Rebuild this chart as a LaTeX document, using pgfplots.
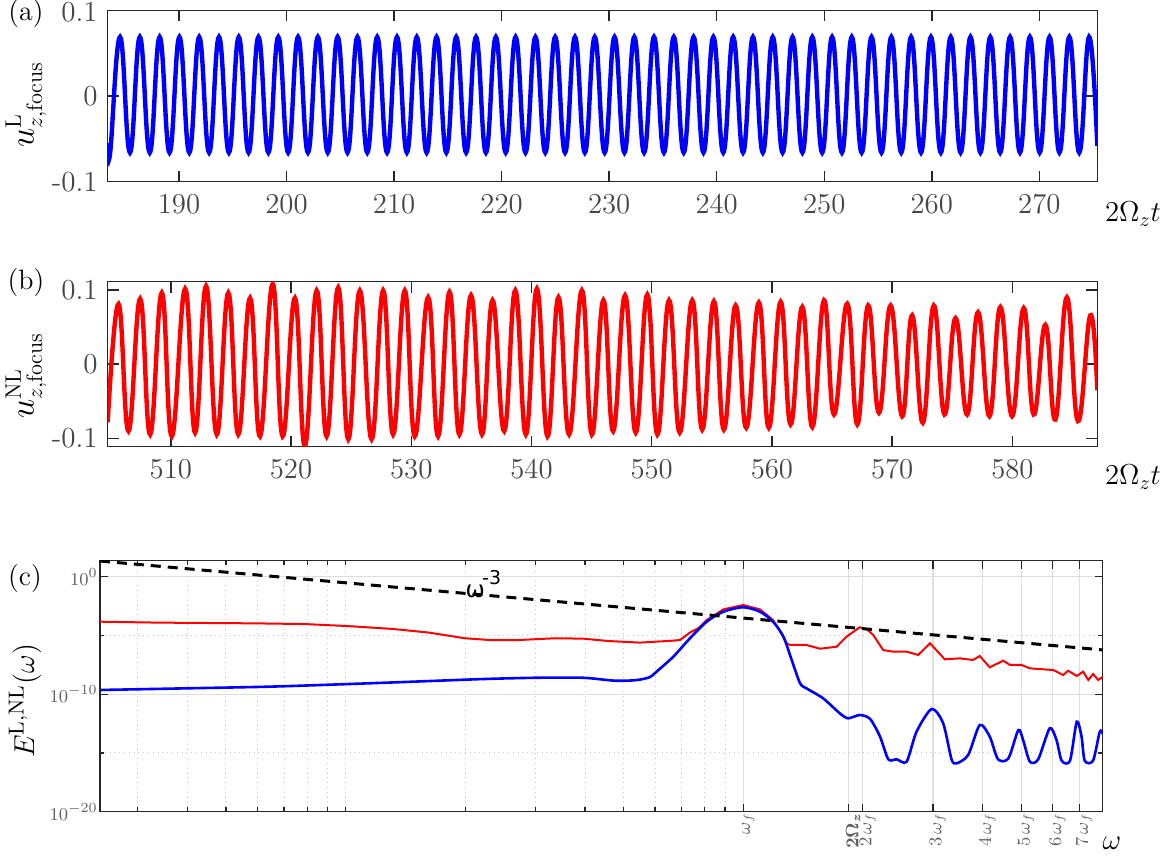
\documentclass[border=0pt]{standalone}
\usepackage{fontspec}
\usepackage{bm}
\usepackage{pgfplots}
\pgfplotsset{compat=1.18}
\usepackage{pgfplotstable}
\newfontfamily\dejavu{DejaVu Sans}
\definecolor{axcol}{RGB}{38,38,38}
\definecolor{labcol}{RGB}{70,70,70}
\definecolor{labcolc}{RGB}{95,95,95}
\definecolor{gridmaj}{RGB}{222,222,222}
\definecolor{gridmin}{RGB}{200,200,200}

\pgfplotstableread{
lw lE
-1.618 -3.83
-1.468 -3.91
-1.230 -3.97
-1.104 -4.03
-0.996 -4.20
-0.880 -4.45
-0.790 -4.76
-0.700 -5.24
-0.637 -5.39
-0.565 -5.39
-0.475 -5.24
-0.403 -5.27
-0.341 -5.47
-0.260 -5.61
-0.180 -5.45
-0.159 -5.39
-0.134 -4.75
-0.113 -4.39
-0.092 -3.69
-0.050 -2.78
0.000 -2.41
0.042 -2.78
0.075 -3.69
0.101 -5.10
0.109 -5.67
0.117 -5.81
0.159 -5.81
0.193 -6.13
0.235 -5.96
0.260 -5.10
0.293 -4.31
0.310 -4.45
0.327 -4.96
0.352 -6.24
0.377 -6.38
0.411 -6.38
0.440 -6.66
0.470 -5.67
0.507 -7.03
0.545 -6.95
0.578 -7.09
0.595 -6.75
0.620 -7.71
0.654 -7.15
0.671 -7.51
0.700 -7.51
0.721 -7.80
0.780 -7.94
0.805 -8.37
0.817 -8.00
0.839 -8.45
0.855 -8.08
0.868 -8.79
0.880 -8.28
0.893 -8.79
0.905 -8.51
}\redtab

\pgfplotstableread{
lw lE
-1.616 -9.64
-1.401 -9.50
-1.194 -9.36
-1.014 -9.16
-0.835 -8.94
-0.655 -8.71
-0.520 -8.60
-0.403 -8.60
-0.323 -8.85
-0.269 -8.80
-0.235 -8.55
-0.218 -8.08
-0.176 -6.81
-0.134 -5.24
-0.092 -3.83
-0.050 -2.98
0.000 -2.60
0.042 -2.98
0.075 -3.83
0.101 -5.10
0.122 -7.09
0.143 -9.07
0.159 -9.50
0.201 -10.35
0.243 -11.63
0.264 -12.05
0.293 -11.77
0.319 -12.10
0.344 -13.60
0.365 -15.54
0.386 -15.54
0.411 -15.74
0.436 -13.19
0.474 -11.26
0.503 -12.48
0.524 -15.54
0.537 -15.88
0.566 -15.17
0.595 -12.62
0.620 -13.60
0.641 -15.54
0.667 -15.46
0.692 -13.05
0.704 -13.90
0.721 -15.74
0.742 -15.54
0.771 -12.90
0.788 -13.90
0.801 -15.66
0.822 -15.66
0.839 -12.34
0.851 -13.60
0.859 -15.66
0.880 -15.66
0.897 -13.19
0.905 -13.41
}\bluetab

\pgfplotsset{
  tsab/.style={
    scale only axis, anchor=north west,
    tick align=inside, major tick length=5.5pt,
    axis line style={axcol, line width=0.75pt},
    every tick/.style={axcol, line width=0.75pt},
    tick label style={font=\fontsize{14.5}{17}\selectfont, text=labcol},
    xticklabel style={yshift=-3pt},
    yticklabel style={xshift=-1.5pt, inner ysep=0pt},
    ytick={-0.1,0,0.1}, yticklabels={-0.1,0,0.1},
  }
}

\begin{document}
\begin{tikzpicture}
\useasboundingbox (0,0) rectangle (586.5pt,-429pt);

% ---------- panel (a)
\begin{axis}[tsab,
  at={(53.85pt,-5.2pt)}, width=494.8pt, height=85.65pt,
  xmin=183.37, xmax=275.39, ymin=-0.1, ymax=0.1,
  yticklabels={-0.1,0,\raisebox{-5.67pt}[5pt][5pt]{0.1}},
  xtick={190,200,...,270}]
\addplot[blue, line width=2.2pt, smooth, tension=0.75] coordinates {
(183.37,-0.055) (183.60,-0.066) (184.52,0.069)
(185.44,-0.066) (186.36,0.069) (187.28,-0.066) (188.20,0.069)
(189.12,-0.066) (190.04,0.069) (190.96,-0.066) (191.88,0.069)
(192.80,-0.066) (193.72,0.069) (194.64,-0.066) (195.56,0.069)
(196.47,-0.066) (197.39,0.069) (198.31,-0.066) (199.23,0.069)
(200.15,-0.066) (201.07,0.069) (201.99,-0.066) (202.91,0.069)
(203.83,-0.066) (204.75,0.069) (205.67,-0.066) (206.59,0.069)
(207.51,-0.066) (208.43,0.069) (209.35,-0.066) (210.27,0.069)
(211.19,-0.066) (212.11,0.069) (213.03,-0.066) (213.95,0.069)
(214.86,-0.066) (215.78,0.069) (216.70,-0.066) (217.62,0.069)
(218.54,-0.066) (219.46,0.069) (220.38,-0.066) (221.30,0.069)
(222.22,-0.066) (223.14,0.069) (224.06,-0.066) (224.98,0.069)
(225.90,-0.066) (226.82,0.069) (227.74,-0.066) (228.66,0.069)
(229.58,-0.066) (230.50,0.069) (231.42,-0.066) (232.34,0.069)
(233.25,-0.066) (234.17,0.069) (235.09,-0.066) (236.01,0.069)
(236.93,-0.066) (237.85,0.069) (238.77,-0.066) (239.69,0.069)
(240.61,-0.066) (241.53,0.069) (242.45,-0.066) (243.37,0.069)
(244.29,-0.066) (245.21,0.069) (246.13,-0.066) (247.05,0.069)
(247.97,-0.066) (248.89,0.069) (249.81,-0.066) (250.73,0.069)
(251.64,-0.066) (252.56,0.069) (253.48,-0.066) (254.40,0.069)
(255.32,-0.066) (256.24,0.069) (257.16,-0.066) (258.08,0.069)
(259.00,-0.066) (259.92,0.069) (260.84,-0.066) (261.76,0.069)
(262.68,-0.066) (263.60,0.069) (264.52,-0.066) (265.44,0.069)
(266.36,-0.066) (267.28,0.069) (268.20,-0.066) (269.12,0.069)
(270.03,-0.066) (270.95,0.069) (271.87,-0.066) (272.79,0.069)
(273.71,-0.066) (274.63,0.069) (275.39,-0.058)
};
\end{axis}

% ---------- panel (b)
\begin{axis}[tsab,
  at={(53.85pt,-140.85pt)}, width=494.8pt, height=82.5pt,
  xmin=504.75, xmax=587.06, ymin=-0.111, ymax=0.111,
  xtick={510,520,...,580}]
\addplot[red, line width=2.2pt, smooth, tension=0.75] coordinates {
(504.75,-0.078)
(505.65,0.081) (506.48,-0.090) (507.45,0.088) (508.28,-0.0945)
(509.25,0.096) (510.08,-0.097) (511.19,0.1015) (512.02,-0.092)
(512.93,0.105) (513.82,-0.0945) (514.78,0.096) (515.61,-0.0945)
(516.59,0.089) (517.42,-0.097) (518.47,0.108) (519.30,-0.097)
(520.32,0.089) (521.15,-0.110) (522.13,0.099) (522.96,-0.097)
(523.92,0.103) (524.76,-0.101) (525.72,0.099) (526.70,-0.101)
(527.66,0.099) (528.49,-0.0945) (529.46,0.099) (530.29,-0.097)
(531.40,0.090) (532.23,-0.097) (533.18,0.097) (534.00,-0.0945)
(534.97,0.0926) (535.88,-0.0945) (536.76,0.086) (537.73,-0.090)
(538.65,0.0993) (539.53,-0.0945) (540.45,0.1015) (541.33,-0.097)
(542.24,0.090) (543.13,-0.0945) (544.19,0.0993) (545.02,-0.0945)
(545.98,0.086) (546.79,-0.090) (547.78,0.0926) (548.67,-0.092)
(549.63,0.0935) (550.47,-0.0945) (551.44,0.086) (552.33,-0.092)
(553.37,0.086) (554.20,-0.088) (555.17,0.0846) (556.00,-0.088)
(556.98,0.079) (557.86,-0.0855) (558.91,0.083) (559.74,-0.0855)
(560.72,0.084) (561.55,-0.081) (562.52,0.077) (563.36,-0.0846)
(564.33,0.086) (565.16,-0.0677) (566.26,0.0813) (567.10,-0.081)
(568.00,0.079) (568.90,-0.0654) (569.87,0.079) (570.83,-0.070)
(571.66,0.0658) (572.55,-0.0788) (573.46,0.079) (574.35,-0.0677)
(575.27,0.062) (576.23,-0.0677) (577.14,0.070) (578.09,-0.070)
(579.00,0.077) (579.97,-0.070) (580.94,0.0756) (581.77,-0.0677)
(582.74,0.053) (583.57,-0.0744) (584.53,0.090) (585.45,-0.0765)
(586.48,0.0658) (587.06,-0.035)
};
\end{axis}

% ---------- panel (c)
\begin{loglogaxis}[
  at={(50pt,-280.35pt)}, anchor=north west, scale only axis,
  width=501.35pt, height=125.5pt,
  xmin=0.0241, xmax=8.02, ymin=1e-20, ymax=22.9,
  xtick={1,1.836,2,3,4,5,6,7},
  xticklabels={$\omega_f$,$\bm{2\Omega_z}$,$2\,\omega_f$,$3\,\omega_f$,$4\,\omega_f$,$5\,\omega_f$,$6\,\omega_f$,$7\,\omega_f$},
  minor xtick={0.03,0.04,0.05,0.06,0.07,0.08,0.09,0.1,0.2,0.3,0.4,0.5,0.6,0.7,0.8,0.9},
  ytick={1e0,1e-10,1e-20}, minor ytick={1e-5,1e-15},
  tick align=inside, major tick length=4pt, minor tick length=2.2pt,
  axis line style={axcol, line width=0.7pt},
  every tick/.style={axcol, line width=0.6pt},
  xmajorgrids, ymajorgrids, xminorgrids, yminorgrids,
  major grid style={gridmaj, line width=0.6pt},
  minor grid style={gridmin, dotted, line width=0.5pt},
  xticklabel style={rotate=90, anchor=east, font=\fontsize{8.8}{10}\selectfont, text=labcolc, inner sep=0.5pt, yshift=-2.5pt},
  yticklabel style={font=\fontsize{9.5}{11}\selectfont, text=labcolc, inner sep=1pt},
  clip=true]
\addplot[red, line width=1.0pt] table[x expr={10^(\thisrow{lw})}, y expr={10^(\thisrow{lE})}] {\redtab};
\addplot[blue, line width=1.3pt, smooth, tension=0.45] table[x expr={10^(\thisrow{lw})}, y expr={10^(\thisrow{lE})}] {\bluetab};
\addplot[black, line width=1.5pt, dash pattern=on 5pt off 3.5pt] coordinates {(0.0241,21.6) (8.02,5.86e-7)};
\node[anchor=base west, inner sep=0pt, font=\dejavu\fontsize{11.5}{12}\selectfont] at (axis cs:0.2,1.86e-2) {ω};
\node[anchor=base west, inner sep=0pt, font=\dejavu\fontsize{9.5}{10}\selectfont] at (axis cs:0.22,0.197) {-3};
\end{loglogaxis}

% ---------- labels
\node[font=\fontsize{14}{16}\selectfont] at (13pt,-7pt) {(a)};
\node[font=\fontsize{14}{16}\selectfont] at (13pt,-141.5pt) {(b)};
\node[font=\fontsize{14}{16}\selectfont] at (12.5pt,-289.5pt) {(c)};
\node[rotate=90, font=\fontsize{16}{18}\selectfont] at (13pt,-52.5pt) {$u^{\mathrm{L}}_{z,\mathrm{focus}}$};
\node[rotate=90, font=\fontsize{16}{18}\selectfont] at (13pt,-188pt) {$u^{\mathrm{NL}}_{z,\mathrm{focus}}$};
\node[rotate=90, font=\fontsize{15.5}{18}\selectfont] at (12.5pt,-350.4pt) {$E^{\mathrm{L,NL}}(\omega)$};
\node[font=\fontsize{14.5}{17}\selectfont] at (566.5pt,-107pt) {$2\Omega_z t$};
\node[font=\fontsize{14.5}{17}\selectfont] at (566.5pt,-238.5pt) {$2\Omega_z t$};
\node[font=\fontsize{14.5}{17}\selectfont] at (556pt,-421.5pt) {$\omega$};
\end{tikzpicture}
\end{document}
